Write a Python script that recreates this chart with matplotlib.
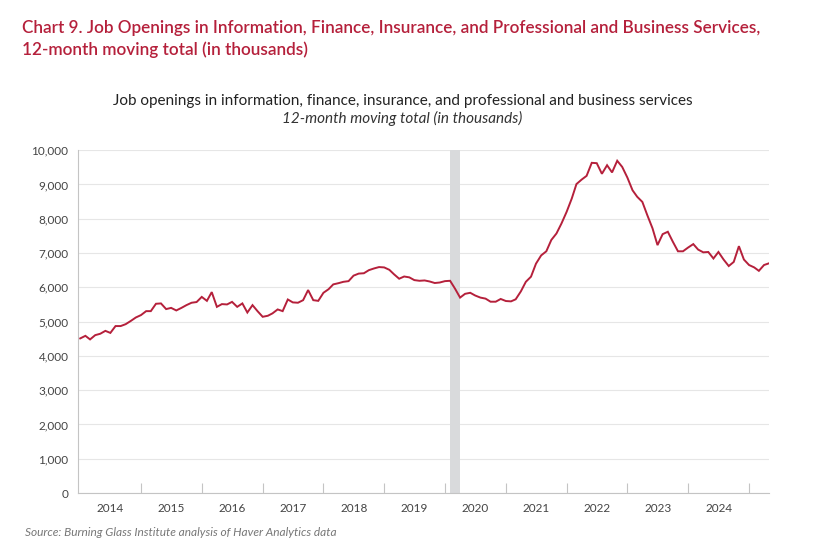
import numpy as np
import pandas as pd
import matplotlib
matplotlib.use("Agg")
import matplotlib.pyplot as plt
from matplotlib.ticker import FuncFormatter, FixedLocator, NullFormatter


bgi_red = "#b5203b"
recession_grey = "#d9dadc"
grid_grey = "#e6e6e6"
axis_grey = "#c4c4c4"
text_grey = "#444444"

# monthly 12-month moving total of job openings (thousands), from Jan 2014
start_month = "2014-01-01"
openings = [
    4510, 4585, 4480, 4605, 4645, 4730, 4670, 4870, 4870, 4925, 5020, 5120,   # 2014
    5190, 5305, 5305, 5520, 5530, 5365, 5400, 5325, 5400, 5480, 5550, 5570,   # 2015
    5720, 5605, 5860, 5430, 5510, 5500, 5575, 5430, 5530, 5265, 5480, 5305,   # 2016
    5140, 5170, 5240, 5355, 5305, 5645, 5560, 5550, 5625, 5920, 5625, 5605,   # 2017
    5840, 5945, 6085, 6120, 6160, 6180, 6340, 6400, 6410, 6500, 6550, 6590,   # 2018
    6580, 6510, 6380, 6250, 6315, 6290, 6210, 6190, 6200, 6170, 6125, 6140,   # 2019
    6180, 6190, 5965, 5700, 5810, 5840, 5760, 5700, 5670, 5580, 5580, 5660,   # 2020
    5600, 5590, 5650, 5880, 6160, 6310, 6690, 6930, 7050, 7380, 7570, 7860,   # 2021
    8200, 8590, 9010, 9140, 9250, 9630, 9620, 9310, 9560, 9350, 9690, 9510,   # 2022
    9200, 8830, 8640, 8490, 8100, 7720, 7230, 7550, 7620, 7330, 7050, 7050,   # 2023
    7160, 7260, 7100, 7020, 7030, 6840, 7030, 6810, 6620, 6740, 7200, 6810,   # 2024
    6650, 6580, 6480, 6650, 6700,                                             # 2025
]

recession_start = "2020-02-01"
recession_end = "2020-04-01"
years = list(range(2014, 2025))
y_ticks = list(range(0, 10001, 1000))


def main():
    plt.rcParams.update({
        "font.family": ["Lato", "DejaVu Sans"],
        "font.size": 9,
    })

    months = pd.date_range(start_month, periods=len(openings), freq="MS")

    fig = plt.figure(figsize=(8.15, 5.54), dpi=100)
    ax = fig.add_axes([0.096, 0.110, 0.848, 0.619])

    ax.axvspan(pd.Timestamp(recession_start), pd.Timestamp(recession_end),
               color=recession_grey, lw=0, zorder=1)
    ax.plot(months, openings, color=bgi_red, lw=1.4, zorder=3,
            solid_joinstyle="miter")

    ax.set_ylim(0, 10000)
    ax.set_yticks(y_ticks)
    ax.yaxis.set_major_formatter(FuncFormatter(lambda v, p: f"{int(v):,}"))
    ax.grid(True, axis="y", color=grid_grey, lw=0.8, zorder=0)
    ax.set_axisbelow(True)

    ax.set_xlim(pd.Timestamp("2013-12-20"), pd.Timestamp("2025-05-03"))
    boundaries = [pd.Timestamp(f"{y}-01-01") for y in range(2015, 2026)]
    mids = [pd.Timestamp(f"{y}-07-02") for y in years]
    ax.xaxis.set_major_locator(FixedLocator([matplotlib.dates.date2num(d) for d in boundaries]))
    ax.xaxis.set_major_formatter(NullFormatter())
    ax.xaxis.set_minor_locator(FixedLocator([matplotlib.dates.date2num(d) for d in mids]))
    ax.set_xticklabels([str(y) for y in years], minor=True)

    ax.tick_params(axis="x", which="major", direction="in", length=7, width=0.8, color=axis_grey)
    ax.tick_params(axis="x", which="minor", length=0, pad=7, labelsize=8.5, labelcolor=text_grey)
    ax.tick_params(axis="y", length=0, pad=7, labelsize=8.5, labelcolor=text_grey)

    for side in ["top", "right"]:
        ax.spines[side].set_visible(False)
    for side in ["left", "bottom"]:
        ax.spines[side].set_color(axis_grey)
        ax.spines[side].set_linewidth(0.8)

    fig.text(22 / 815, 1 - 28 / 554,
             "Chart 9. Job Openings in Information, Finance, Insurance, and Professional and Business Services,",
             color=bgi_red, fontsize=12.3, fontweight="semibold", va="center", ha="left")
    fig.text(22 / 815, 1 - 50 / 554, "12-month moving total (in thousands)",
             color=bgi_red, fontsize=12.3, fontweight="semibold", va="center", ha="left")

    fig.text(403 / 815, 1 - 101 / 554,
             "Job openings in information, finance, insurance, and professional and business services",
             color="#222222", fontsize=11.0, va="center", ha="center")
    fig.text(402 / 815, 1 - 118 / 554, "12-month moving total (in thousands)",
             color="#333333", fontsize=11.0, style="italic", va="center", ha="center")

    fig.text(25 / 815, 1 - 533 / 554, "Source: Burning Glass Institute analysis of Haver Analytics data",
             color="#777777", fontsize=8.6, style="italic", va="center", ha="left")

    fig.savefig("out.png", dpi=100, facecolor="white")


if __name__ == "__main__":
    main()
